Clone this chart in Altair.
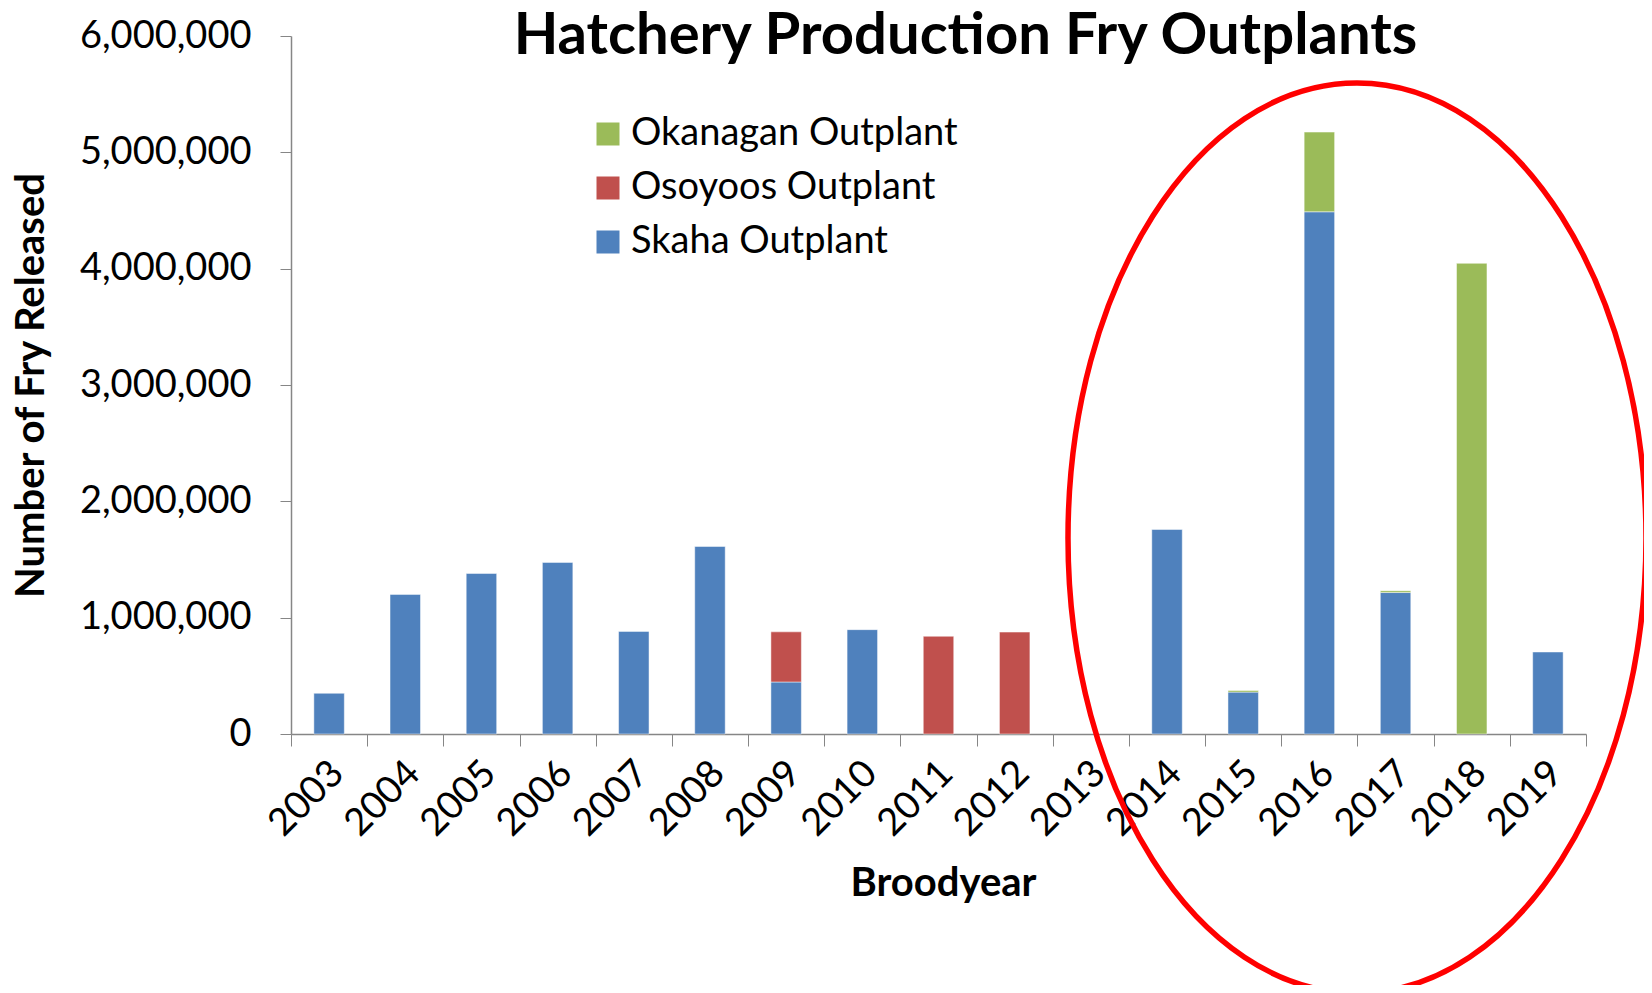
import altair as alt
import pandas as pd

# ---- data ----
years = ["2003", "2004", "2005", "2006", "2007", "2008", "2009", "2010", "2011",
         "2012", "2013", "2014", "2015", "2016", "2017", "2018", "2019"]
skaha = [350000, 1200000, 1380000, 1475000, 882000, 1612000, 447000, 897000, 0,
         0, 0, 1758000, 360000, 4489000, 1216000, 0, 705000]
osoyoos = [0, 0, 0, 0, 0, 0, 431000, 0, 840000,
           876000, 0, 0, 0, 0, 0, 0, 0]
okanagan = [0, 0, 0, 0, 0, 0, 0, 0, 0,
            0, 0, 0, 14000, 685000, 15000, 4046000, 0]

series_names = ["Okanagan Outplant", "Osoyoos Outplant", "Skaha Outplant"]
series_colors = ["#9BBB59", "#C0504D", "#4F81BD"]
stack_rank = {"Skaha Outplant": 0, "Osoyoos Outplant": 1, "Okanagan Outplant": 2}
y_ticks = [0, 1000000, 2000000, 3000000, 4000000, 5000000, 6000000]

rows = []
for name, vals in [("Skaha Outplant", skaha), ("Osoyoos Outplant", osoyoos),
                   ("Okanagan Outplant", okanagan)]:
    for yr, v in zip(years, vals):
        if v > 0:
            rows.append({"year": yr, "series": name, "value": v, "rank": stack_rank[name]})
df = pd.DataFrame(rows)

FONT = "Lato"
AXIS_GREY = "#868686"

PLOT_W, PLOT_H = 1295, 698

bars = alt.Chart(df).mark_bar(
    width=alt.RelativeBandSize(0.4), stroke="white", strokeWidth=0.8, strokeOpacity=0.6
).encode(
    x=alt.X("year:N",
            scale=alt.Scale(domain=years, paddingInner=0, paddingOuter=0),
            axis=alt.Axis(title="Broodyear", labelAngle=-45, tickBand="extent",
                          labelFont=FONT, labelFontSize=38, labelColor="black",
                          labelPadding=8, labelOffset=-5, tickSize=12, tickColor=AXIS_GREY,
                          domainColor=AXIS_GREY, tickWidth=1, domainWidth=1.5,
                          titleFont=FONT, titleFontSize=40, titleFontWeight="bold",
                          titleColor="black", titleX=652, titleY=149,
                          titleBaseline="middle", titleAlign="center")),
    y=alt.Y("value:Q", stack="zero",
            scale=alt.Scale(domain=[0, 6000000], nice=False),
            axis=alt.Axis(title="Number of Fry Released", values=y_ticks, format=",d",
                          grid=False, labelFont=FONT, labelFontSize=38,
                          labelColor="black", labelPadding=29, tickSize=11,
                          tickColor=AXIS_GREY, domainColor=AXIS_GREY, domainWidth=1.5,
                          titleFont=FONT, titleFontSize=40, titleFontWeight="bold",
                          titleColor="black", titleX=-260, titleY=PLOT_H / 2,
                          titleAngle=-90, titleBaseline="middle", titleAlign="center")),
    color=alt.Color("series:N",
                    scale=alt.Scale(domain=series_names, range=series_colors),
                    legend=alt.Legend(title=None, orient="none", legendX=298, legendY=79,
                                      symbolType="square", symbolSize=529,
                                      symbolStrokeWidth=0, labelFont=FONT,
                                      labelFontSize=38, labelColor="black",
                                      labelLimit=600, labelOffset=4, rowPadding=16,
                                      padding=0)),
    order=alt.Order("rank:Q", sort="ascending"),
)

# red highlight ellipse drawn as a custom symbol (unit path, rx=1, ry=1.5744)
ELLIPSE_PATH = ("M 1 0 C 1 0.8696 0.5523 1.5744 0 1.5744 "
                "C -0.5523 1.5744 -1 0.8696 -1 0 "
                "C -1 -0.8696 -0.5523 -1.5744 0 -1.5744 "
                "C 0.5523 -1.5744 1 -0.8696 1 0 Z")
ellipse_df = pd.DataFrame({"label": ["highlight"]})
ellipse = alt.Chart(ellipse_df).mark_point(
    shape=ELLIPSE_PATH, filled=False, stroke="#FF0000", strokeWidth=5.5,
    size=578 * 578, opacity=1
).encode(x=alt.value(1066), y=alt.value(502))

chart = alt.layer(bars, ellipse).properties(
    width=PLOT_W, height=PLOT_H,
    autosize=alt.AutoSizeParams(type="none"),
    padding={"left": 283, "top": 28, "right": 58, "bottom": 251},
    title=alt.Title("Hatchery Production Fry Outplants", font=FONT, fontSize=58,
                    fontWeight="bold", color="black", anchor="middle", frame="group",
                    dx=27, offset=-49),
).configure_view(stroke=None)

chart.save("out.html", embed_options={"renderer": "svg", "actions": False})
